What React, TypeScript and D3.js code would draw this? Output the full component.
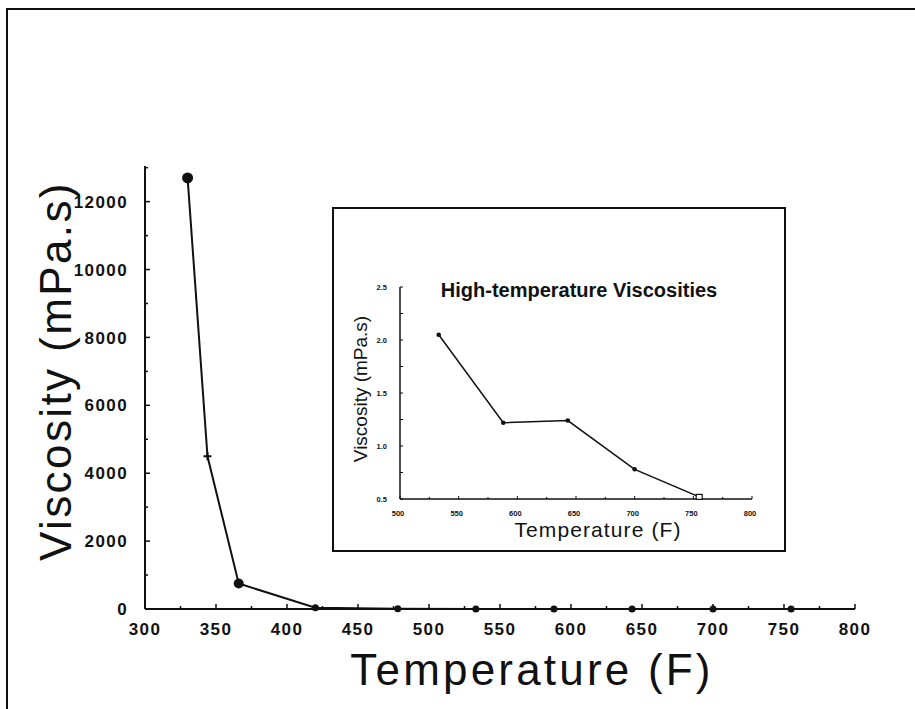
import React from "react";
import * as d3 from "d3";

// Viscosity measurements over the full temperature sweep
const temperatures = [330, 344, 366, 420, 478, 533, 588, 643, 700, 755];
const viscosities = [12700, 4500, 750, 40, 6, 2.05, 1.22, 1.24, 0.78, 0.52];

// High-temperature subset shown in the inset
const hiTemperatures = [533, 588, 643, 700, 755];
const hiViscosities = [2.05, 1.22, 1.24, 0.78, 0.52];

const xTicks = [300, 350, 400, 450, 500, 550, 600, 650, 700, 750, 800];
const yTicks = [0, 2000, 4000, 6000, 8000, 10000, 12000];
const insetXTicks = [500, 550, 600, 650, 700, 750, 800];
const insetYTicks = [0.5, 1.0, 1.5, 2.0, 2.5];

const W = 915;
const H = 709;
const INK = "#111";

export default function App() {
  // Main axes
  const x = d3.scaleLinear().domain([300, 800]).range([145, 855]);
  const y = d3.scaleLinear().domain([0, 13050]).range([609, 166]);

  // Inset axes
  const ix = d3.scaleLinear().domain([500, 800]).range([400, 752]);
  const iy = d3.scaleLinear().domain([0.5, 2.5]).range([499, 287]);

  const pts = temperatures.map((t, i) => [t, viscosities[i]] as [number, number]);
  const hiPts = hiTemperatures.map((t, i) => [t, hiViscosities[i]] as [number, number]);

  const mainLine = d3
    .line<[number, number]>()
    .x((d) => x(d[0]))
    .y((d) => y(d[1]))(pts) as string;

  const insetLine = d3
    .line<[number, number]>()
    .x((d) => ix(d[0]))
    .y((d) => iy(d[1]))(hiPts) as string;

  const xMinor = d3.range(300, 801, 25);
  const yMinor = d3.range(0, 13001, 1000);
  const ixMinor = d3.range(500, 801, 25);
  const iyMinor = d3.range(0.5, 2.501, 0.25);

  const tickFont = "'Liberation Sans', Arial, sans-serif";

  return (
    <svg
      width={W}
      height={H}
      viewBox={`0 0 ${W} ${H}`}
      style={{ position: "absolute", left: 0, top: 0, background: "#fff" }}
    >
      <rect x={0} y={0} width={W} height={H} fill="#fff" />

      {/* page frame */}
      <path d={`M7,${H} L7,9 L${W},9`} fill="none" stroke={INK} strokeWidth={2} />

      {/* main y axis */}
      <line x1={x(300)} x2={x(300)} y1={y(13050)} y2={y(0)} stroke={INK} strokeWidth={2} />
      {yMinor.map((v) => (
        <line
          key={`ym${v}`}
          x1={x(300)}
          x2={x(300) + (v % 2000 === 0 ? 5 : 3)}
          y1={y(v)}
          y2={y(v)}
          stroke={INK}
          strokeWidth={1.5}
        />
      ))}
      {yTicks.map((v) => (
        <text
          key={`yt${v}`}
          x={128}
          y={y(v)}
          dy="0.36em"
          textAnchor="end"
          fontFamily={tickFont}
          fontWeight="bold"
          fontSize={17}
          letterSpacing={1.4}
          fill={INK}
        >
          {v}
        </text>
      ))}

      {/* main x axis */}
      <line x1={x(300)} x2={x(800)} y1={y(0)} y2={y(0)} stroke={INK} strokeWidth={2} />
      {xMinor.map((v) => (
        <line
          key={`xm${v}`}
          x1={x(v)}
          x2={x(v)}
          y1={y(0)}
          y2={y(0) - (v % 50 === 0 ? 5 : 3)}
          stroke={INK}
          strokeWidth={1.5}
        />
      ))}
      {xTicks.map((v) => (
        <text
          key={`xt${v}`}
          x={x(v)}
          y={635}
          textAnchor="middle"
          fontFamily={tickFont}
          fontWeight="bold"
          fontSize={17}
          letterSpacing={1.4}
          fill={INK}
        >
          {v}
        </text>
      ))}

      {/* main axis titles */}
      <text
        x={532}
        y={685}
        textAnchor="middle"
        fontFamily={tickFont}
        fontSize={44}
        letterSpacing={3.2}
        fill={INK}
      >
        Temperature (F)
      </text>
      <text
        transform={`translate(71,371) rotate(-90)`}
        textAnchor="middle"
        fontFamily={tickFont}
        fontSize={44}
        letterSpacing={2.4}
        fill={INK}
      >
        Viscosity (mPa.s)
      </text>

      {/* main series */}
      <path d={mainLine} fill="none" stroke={INK} strokeWidth={2} />
      {pts.map((d, i) => {
        const cx = x(d[0]);
        const cy = y(d[1]);
        if (i === 1) {
          return (
            <g key={`p${i}`} stroke={INK} strokeWidth={2}>
              <line x1={cx - 4} x2={cx + 4} y1={cy} y2={cy} />
              <line x1={cx} x2={cx} y1={cy - 4} y2={cy + 4} />
            </g>
          );
        }
        const r = i === 0 ? 5.5 : i === 2 ? 5 : 3.5;
        return <circle key={`p${i}`} cx={cx} cy={cy} r={r} fill={INK} />;
      })}

      {/* inset panel */}
      <rect x={333} y={208} width={452} height={343} fill="#fff" stroke={INK} strokeWidth={2} />
      <text
        x={579}
        y={297}
        textAnchor="middle"
        fontFamily={tickFont}
        fontWeight="bold"
        fontSize={20}
        fill={INK}
      >
        High-temperature Viscosities
      </text>

      {/* inset axes */}
      <line x1={ix(500)} x2={ix(500)} y1={iy(2.5)} y2={iy(0.5)} stroke={INK} strokeWidth={1.5} />
      <line x1={ix(500)} x2={ix(800)} y1={iy(0.5)} y2={iy(0.5)} stroke={INK} strokeWidth={1.5} />
      {iyMinor.map((v) => (
        <line
          key={`iym${v}`}
          x1={ix(500)}
          x2={ix(500) + 3}
          y1={iy(v)}
          y2={iy(v)}
          stroke={INK}
          strokeWidth={1}
        />
      ))}
      {ixMinor.map((v) => (
        <line
          key={`ixm${v}`}
          x1={ix(v)}
          x2={ix(v)}
          y1={iy(0.5)}
          y2={iy(0.5) - (v % 50 === 0 ? 3 : 2)}
          stroke={INK}
          strokeWidth={1}
        />
      ))}
      {/* tiny inset tick labels, drawn at double size and scaled down */}
      {insetYTicks.map((v) => (
        <g key={`iyt${v}`} transform={`translate(387,${iy(v)}) scale(0.5)`}>
          <text
            dy="0.35em"
            textAnchor="end"
            fontFamily={tickFont}
            fontWeight="bold"
            fontSize={15}
            fill={INK}
          >
            {v.toFixed(1)}
          </text>
        </g>
      ))}
      {insetXTicks.map((v) => (
        <g key={`ixt${v}`} transform={`translate(${ix(v) - 2},516) scale(0.5)`}>
          <text
            textAnchor="middle"
            fontFamily={tickFont}
            fontWeight="bold"
            fontSize={15}
            fill={INK}
          >
            {v}
          </text>
        </g>
      ))}
      <text
        x={598}
        y={537}
        textAnchor="middle"
        fontFamily={tickFont}
        fontSize={21}
        letterSpacing={1.1}
        fill={INK}
      >
        Temperature (F)
      </text>
      <text
        transform={`translate(367,389) rotate(-90)`}
        textAnchor="middle"
        fontFamily={tickFont}
        fontSize={19}
        fill={INK}
      >
        Viscosity (mPa.s)
      </text>

      {/* inset series */}
      <path d={insetLine} fill="none" stroke={INK} strokeWidth={1.5} />
      {hiPts.map((d, i) =>
        i === hiPts.length - 1 ? (
          <rect
            key={`ip${i}`}
            x={ix(d[0]) - 3}
            y={iy(d[1]) - 2.5}
            width={6}
            height={5}
            fill="#fff"
            stroke={INK}
            strokeWidth={1.2}
          />
        ) : (
          <circle key={`ip${i}`} cx={ix(d[0])} cy={iy(d[1])} r={2.3} fill={INK} />
        )
      )}
    </svg>
  );
}
